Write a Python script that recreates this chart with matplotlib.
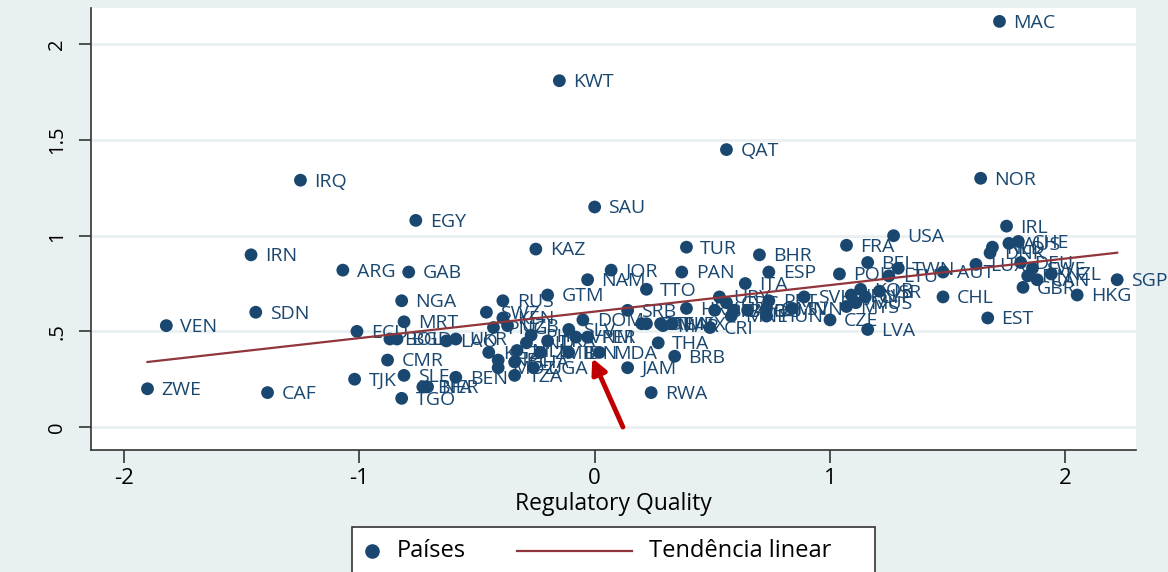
import matplotlib
matplotlib.use("Agg")
import matplotlib.pyplot as plt
from matplotlib.lines import Line2D
from matplotlib.patches import Rectangle

plt.rcParams['font.family'] = ['Open Sans', 'DejaVu Sans']

codes = ["MAC", "KWT", "QAT", "IRQ", "NOR", "SAU", "EGY", "IRL", "USA", "KAZ",
         "TUR", "FRA", "IRN", "BHR", "BEL", "ARG", "GAB", "JOR", "PAN", "ESP",
         "NAM", "POL", "TWN", "AUT", "LUX", "CHL", "EST", "SGP", "HKG", "GBR",
         "NZL", "CAN", "FIN", "SWE", "DEU", "CHE", "AUS", "NLD", "DNK", "VEN",
         "SDN", "ZWE", "CAF", "ECU", "NGA", "MRT", "BOL", "BGD", "LAO", "UKR",
         "CMR", "TJK", "SLE", "BEN", "NER", "BFA", "TGO", "KGZ", "RUS", "GTM",
         "SWZ", "KEN", "PNG", "UZB", "PHL", "IND", "LKA", "SLV", "DOM", "VNM",
         "PER", "MDA", "IDN", "ZMB", "MLI", "NPL", "GHA", "MOZ", "TZA", "UGA",
         "SRB", "THA", "JAM", "RWA", "ZAF", "MAR", "MEX", "TTO", "ITA", "URY",
         "GRC", "PRT", "SVK", "HRV", "BRA", "BGR", "ROU", "OMN", "SVN", "COL",
         "TUN", "CRI", "MNE", "HUN", "CZE", "BRB", "LTU", "KOR", "JPN", "ISR",
         "MUS", "MYS", "LVA", "CYP"]

reg_quality = [1.72, -0.15, 0.56, -1.25, 1.64, 0.00, -0.76, 1.75, 1.27, -0.25,
               0.39, 1.07, -1.46, 0.70, 1.16, -1.07, -0.79, 0.07, 0.37, 0.74,
               -0.03, 1.04, 1.29, 1.48, 1.62, 1.48, 1.67, 2.22, 2.05, 1.82,
               1.94, 1.88, 1.84, 1.86, 1.81, 1.80, 1.76, 1.69, 1.68, -1.82,
               -1.44, -1.90, -1.39, -1.01, -0.82, -0.81, -0.87, -0.84, -0.63, -0.59,
               -0.88, -1.02, -0.81, -0.59, -0.71, -0.73, -0.82, -0.45, -0.39, -0.20,
               -0.46, -0.39, -0.43, -0.37, -0.27, -0.29, -0.20, -0.11, -0.05, -0.08,
               -0.03, 0.02, -0.11, -0.23, -0.33, -0.41, -0.34, -0.41, -0.34, -0.26,
               0.14, 0.27, 0.14, 0.24, 0.22, 0.29, 0.33, 0.22, 0.64, 0.53,
               0.56, 0.74, 0.89, 0.39, 0.51, 0.59, 0.65, 0.73, 0.84, 0.20,
               0.28, 0.49, 0.58, 0.73, 1.00, 0.34, 1.25, 1.13, 1.09, 1.21,
               1.11, 1.07, 1.16, 1.15]

outcome = [2.12, 1.81, 1.45, 1.29, 1.30, 1.15, 1.08, 1.05, 1.00, 0.93,
           0.94, 0.95, 0.90, 0.90, 0.86, 0.82, 0.81, 0.82, 0.81, 0.81,
           0.77, 0.80, 0.83, 0.81, 0.85, 0.68, 0.57, 0.77, 0.69, 0.73,
           0.80, 0.77, 0.79, 0.83, 0.86, 0.97, 0.96, 0.94, 0.91, 0.53,
           0.60, 0.20, 0.18, 0.50, 0.66, 0.55, 0.46, 0.46, 0.45, 0.46,
           0.35, 0.25, 0.27, 0.26, 0.21, 0.21, 0.15, 0.39, 0.66, 0.69,
           0.60, 0.57, 0.52, 0.53, 0.48, 0.44, 0.45, 0.51, 0.56, 0.47,
           0.47, 0.39, 0.39, 0.39, 0.40, 0.35, 0.34, 0.31, 0.27, 0.31,
           0.61, 0.44, 0.31, 0.18, 0.54, 0.53, 0.54, 0.72, 0.75, 0.68,
           0.65, 0.66, 0.68, 0.62, 0.61, 0.61, 0.61, 0.62, 0.62, 0.54,
           0.54, 0.52, 0.58, 0.58, 0.56, 0.37, 0.79, 0.72, 0.69, 0.71,
           0.65, 0.63, 0.51, 0.68]

# linear trend, end points
trend_x = [-1.90, 2.22]
trend_y = [0.34, 0.911]

# red arrow: tail and head
arrow_tail = (0.12, 0.0)
arrow_head = (-0.01, 0.36)

legend_labels = ["Países", "Tendência linear"]

navy = "#1a476f"
maroon = "#90353b"
bg = "#e9f0f2"
W, H = 1168, 572

fig = plt.figure(figsize=(W / 100, H / 100), dpi=100, facecolor=bg)
ax = fig.add_axes([91 / W, 1 - 450 / H, (1136 - 91) / W, (450 - 8) / H])
ax.set_facecolor("white")

ax.scatter(reg_quality, outcome, s=85, color=navy, edgecolors="none", zorder=3)
for c, x, y in zip(codes, reg_quality, outcome):
    ax.annotate(c, (x, y), xytext=(10, -1), textcoords="offset points", va="center",
                ha="left", fontsize=14, color=navy, zorder=4, annotation_clip=False)

ax.plot(trend_x, trend_y, color=maroon, lw=1.6, zorder=5)

ax.annotate("", xy=arrow_head, xytext=arrow_tail,
            arrowprops=dict(arrowstyle="-|>,head_length=0.9,head_width=0.45",
                            color="#c00000", lw=3.5, shrinkA=0, shrinkB=0), zorder=6)

ax.set_xlim(-2.14, 2.30)
ax.set_ylim(-0.12, 2.19)
ax.set_xticks([-2, -1, 0, 1, 2])
ax.set_xticklabels(["-2", "-1", "0", "1", "2"])
ax.set_yticks([0, 0.5, 1, 1.5, 2])
ax.set_yticklabels(["0", ".5", "1", "1.5", "2"], rotation=90, va="center")
ax.tick_params(axis="both", length=9, width=1.2, color="#333333")
ax.tick_params(axis="x", labelsize=16, pad=4)
ax.tick_params(axis="y", labelsize=14.5, pad=8)
ax.grid(axis="y", color=bg, lw=2)
ax.set_axisbelow(True)
for s in ["top", "right"]:
    ax.spines[s].set_visible(False)
for s in ["left", "bottom"]:
    ax.spines[s].set_color("#333333")
    ax.spines[s].set_linewidth(1.2)

ax.set_xlabel("Regulatory Quality", fontsize=16.5, labelpad=2)

# legend box below the plot, drawn in figure pixels
tf = fig.transFigure
fig.add_artist(Rectangle((352 / W, -0.05), (875 - 352) / W, (572 - 527) / H + 0.05,
                         transform=tf, facecolor="white", edgecolor="#333333", lw=1.2))
ly = 1 - 551 / H
fig.add_artist(Line2D([372 / W], [ly], transform=tf, marker="o", markersize=9.5,
                      color=navy, ls="none"))
fig.text(397 / W, ly, legend_labels[0], transform=tf, fontsize=17, va="center")
fig.add_artist(Line2D([517 / W, 632 / W], [ly, ly], transform=tf, color=maroon, lw=1.6))
fig.text(649 / W, ly, legend_labels[1], transform=tf, fontsize=17, va="center")

fig.savefig("out.png", dpi=100, facecolor=bg)
